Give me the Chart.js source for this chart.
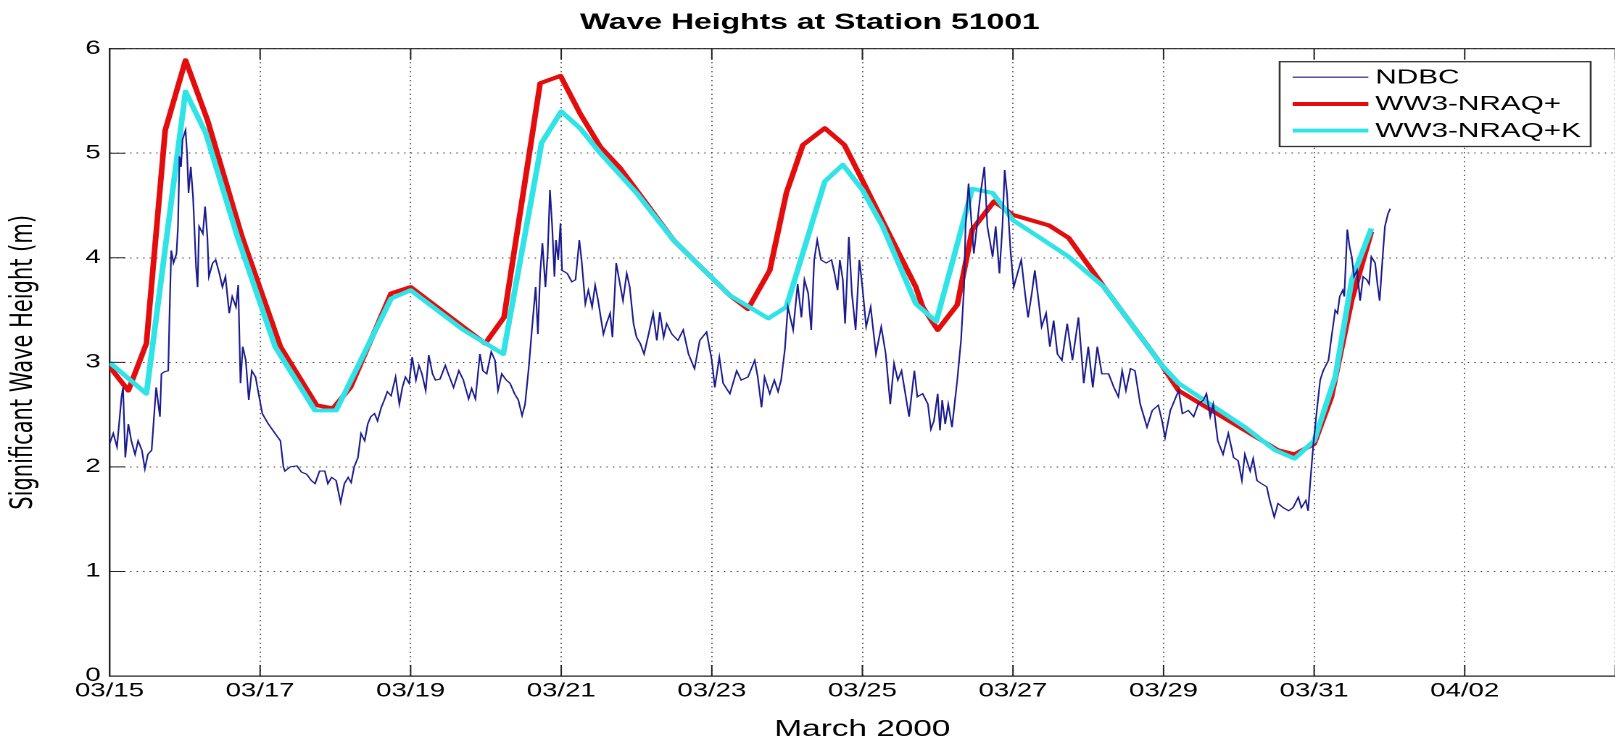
<!DOCTYPE html>
<html>
<head>
<meta charset="utf-8">
<script src="https://cdn.jsdelivr.net/npm/chart.js@4.4.1/dist/chart.umd.min.js"></script>
<style>
html, body { margin: 0; padding: 0; background: #ffffff; overflow: hidden; width: 1615px; height: 743px; }
#wrap { position: absolute; left: 0; top: 0; width: 1118px; height: 743px; transform: scaleX(1.45); transform-origin: 0 0; }
</style>
</head>
<body>
<div id="wrap"><canvas id="c" width="1118" height="743"></canvas></div>
<script>
// ---- data (x = days since 03/15 00:00, y = significant wave height in m) ----
const tickLabels = ['03/15','03/17','03/19','03/21','03/23','03/25','03/27','03/29','03/31','04/02'];

const ndbcDays = [
 0.00,0.05,0.10,0.16,0.18,0.21,0.25,0.29,0.34,0.38,0.43,0.47,0.51,0.56,0.60,0.62,0.67,0.69,0.73,0.78,
 0.80,0.82,0.85,0.89,0.91,0.93,0.95,0.97,1.01,1.03,1.05,1.08,1.11,1.15,1.17,1.19,1.24,1.27,1.30,1.32,
 1.37,1.41,1.46,1.50,1.54,1.59,1.63,1.68,1.71,1.74,1.77,1.81,1.85,1.89,1.94,1.98,2.03,2.11,2.20,2.27,
 2.31,2.33,2.40,2.49,2.55,2.62,2.68,2.73,2.79,2.86,2.90,2.95,3.01,3.07,3.12,3.17,3.21,3.25,3.30,3.34,
 3.39,3.43,3.47,3.52,3.56,3.61,3.65,3.69,3.74,3.80,3.85,3.89,3.93,3.98,4.02,4.07,4.11,4.15,4.20,4.24,
 4.29,4.33,4.39,4.46,4.50,4.57,4.64,4.70,4.77,4.81,4.86,4.92,4.96,5.01,5.07,5.12,5.16,5.21,5.27,5.32,
 5.38,5.43,5.48,5.52,5.57,5.61,5.66,5.69,5.72,5.75,5.79,5.82,5.85,5.88,5.91,5.93,5.96,5.99,6.01,6.08,
 6.14,6.19,6.24,6.27,6.32,6.36,6.41,6.45,6.49,6.56,6.60,6.65,6.68,6.73,6.77,6.82,6.87,6.91,6.96,7.00,
 7.05,7.10,7.16,7.22,7.27,7.31,7.36,7.40,7.47,7.55,7.62,7.69,7.77,7.84,7.93,8.00,8.04,8.10,8.15,8.24,
 8.33,8.39,8.48,8.57,8.61,8.66,8.70,8.77,8.83,8.88,8.92,8.97,9.01,9.08,9.14,9.19,9.23,9.28,9.32,9.36,
 9.40,9.45,9.52,9.59,9.63,9.67,9.70,9.74,9.77,9.82,9.86,9.91,9.96,10.00,10.05,10.11,10.18,10.25,10.31,10.37,
 10.42,10.47,10.52,10.57,10.62,10.69,10.73,10.80,10.87,10.91,10.95,11.00,11.03,11.06,11.10,11.14,11.19,11.23,11.26,11.31,
 11.35,11.37,11.41,11.44,11.48,11.53,11.57,11.62,11.66,11.73,11.77,11.82,11.86,11.89,11.92,11.97,12.01,12.06,12.11,12.16,
 12.20,12.25,12.29,12.34,12.38,12.44,12.49,12.54,12.59,12.65,12.72,12.79,12.87,12.94,13.00,13.06,13.12,13.18,13.27,13.34,
 13.40,13.45,13.50,13.56,13.62,13.69,13.78,13.85,13.93,13.98,14.02,14.09,14.20,14.25,14.33,14.40,14.46,14.53,14.57,14.62,
 14.66,14.72,14.79,14.86,14.93,14.99,15.04,15.08,15.15,15.19,15.24,15.30,15.37,15.41,15.47,15.52,15.59,15.66,15.72,15.79,
 15.83,15.89,15.92,15.95,15.99,16.04,16.08,16.12,16.19,16.23,16.28,16.31,16.34,16.38,16.40,16.44,16.47,16.50,16.53,16.57,
 16.61,16.65,16.70,16.73,16.76,16.81,16.84,16.87,16.91,16.94,16.98,17.01
];
const ndbcHs = [
 2.22,2.32,2.19,2.67,2.76,2.09,2.41,2.25,2.12,2.25,2.16,1.98,2.12,2.16,2.57,2.76,2.48,2.89,2.91,2.92,
 3.53,4.07,3.95,4.04,4.30,4.97,4.87,5.13,5.22,5.00,4.62,4.87,4.58,3.91,3.72,4.30,4.23,4.49,4.20,3.82,
 3.95,3.98,3.85,3.72,3.82,3.47,3.63,3.53,3.74,2.80,3.15,3.02,2.64,2.92,2.86,2.70,2.51,2.41,2.32,2.25,
 2.00,1.96,2.00,2.01,1.95,1.93,1.87,1.84,1.96,1.96,1.84,1.90,1.87,1.66,1.84,1.90,1.85,2.00,2.09,2.32,
 2.25,2.41,2.48,2.51,2.44,2.57,2.64,2.72,2.68,2.86,2.60,2.76,2.86,2.80,3.05,2.83,2.97,2.89,2.73,3.07,
 2.89,2.83,2.84,2.97,2.89,2.76,2.92,2.83,2.65,2.75,2.65,3.08,2.92,2.89,3.10,3.02,2.73,2.89,2.83,2.80,
 2.70,2.64,2.49,2.60,2.96,3.31,3.72,3.27,3.85,4.14,3.72,4.04,4.65,4.30,3.82,4.17,3.98,4.33,3.88,3.85,
 3.77,3.79,4.17,3.98,3.56,3.69,3.53,3.74,3.59,3.27,3.37,3.47,3.24,3.95,3.79,3.59,3.85,3.72,3.37,3.24,
 3.18,3.08,3.27,3.47,3.21,3.48,3.24,3.37,3.27,3.21,3.31,3.08,2.94,3.21,3.29,3.02,2.76,3.05,2.80,2.70,
 2.92,2.83,2.86,3.02,2.86,2.57,2.86,2.70,2.83,2.72,2.83,3.12,3.53,3.31,3.75,3.43,3.79,3.66,3.31,3.98,
 4.17,3.98,3.95,3.98,3.85,3.69,3.98,3.79,3.37,4.20,3.66,3.31,3.98,3.72,3.34,3.53,3.08,3.34,3.08,2.60,
 2.99,2.83,2.92,2.70,2.48,2.92,2.67,2.70,2.60,2.36,2.44,2.70,2.35,2.64,2.41,2.60,2.38,2.64,2.83,3.21,
 3.72,4.30,4.71,4.42,4.04,4.36,4.62,4.87,4.30,4.01,4.30,3.85,4.30,4.84,4.62,4.04,3.72,3.85,3.98,3.66,
 3.43,3.66,3.88,3.59,3.34,3.47,3.15,3.40,3.08,3.02,3.37,3.02,3.43,2.80,3.15,2.76,3.15,2.89,2.89,2.76,
 2.67,2.92,2.73,2.94,2.92,2.60,2.38,2.54,2.59,2.44,2.28,2.54,2.73,2.51,2.54,2.48,2.60,2.64,2.70,2.48,
 2.60,2.25,2.12,2.32,2.09,2.06,1.87,2.12,1.96,2.08,1.87,1.84,1.81,1.68,1.52,1.65,1.61,1.58,1.61,1.71,
 1.61,1.68,1.58,1.87,2.22,2.57,2.83,2.92,3.02,3.24,3.50,3.47,3.63,3.69,3.63,4.27,4.11,4.01,3.82,3.88,
 3.59,3.82,3.79,3.75,4.01,3.95,3.75,3.59,4.01,4.30,4.42,4.47
];

const nraqDays = [0.00,0.25,0.49,0.74,1.01,1.30,1.76,2.27,2.75,2.97,3.20,3.74,4.00,4.99,5.24,5.72,5.99,6.25,6.52,6.78,
 7.13,7.49,7.80,8.24,8.48,8.77,8.99,9.21,9.50,9.76,10.00,10.27,10.71,10.80,11.00,11.26,11.46,11.75,12.00,12.48,
 12.74,13.21,13.98,14.20,15.08,15.52,15.74,16.00,16.23,16.50,16.76];
const nraqHs = [2.96,2.73,3.18,5.22,5.89,5.32,4.20,3.15,2.59,2.56,2.76,3.66,3.72,3.18,3.43,5.67,5.74,5.38,5.06,4.86,
 4.52,4.17,3.95,3.64,3.51,3.88,4.62,5.08,5.24,5.08,4.74,4.35,3.72,3.53,3.31,3.55,4.27,4.54,4.41,4.31,
 4.19,3.72,2.97,2.73,2.35,2.16,2.12,2.22,2.67,3.60,4.25];

const nraqkDays = [0.00,0.49,1.01,1.28,1.70,2.20,2.73,3.01,3.74,4.00,4.70,5.23,5.74,6.00,6.25,6.52,7.00,7.49,7.80,8.24,
 8.75,8.99,9.50,9.74,10.00,10.27,10.71,10.98,11.46,11.73,12.00,12.34,12.74,13.21,13.98,14.20,15.08,15.48,15.74,16.00,
 16.28,16.50,16.76];
const nraqkHs = [3.00,2.70,5.59,5.19,4.20,3.15,2.54,2.54,3.61,3.69,3.31,3.08,5.10,5.40,5.24,5.00,4.62,4.17,3.95,3.64,
 3.42,3.53,4.73,4.89,4.65,4.30,3.56,3.39,4.66,4.62,4.36,4.20,4.01,3.72,2.97,2.80,2.38,2.16,2.08,2.25,
 2.86,3.79,4.28];

const seriesNames = ['NDBC', 'WW3-NRAQ+', 'WW3-NRAQ+K'];
const seriesColors = ['#1b1b8f', '#e30d0d', '#2fe3e6'];

// ---- build ----
const toPts = (xs, ys) => xs.map((d, i) => ({ x: d, y: ys[i] }));
const FONT = '"Liberation Sans", Arial, Helvetica, sans-serif';
const WIDE = '"DejaVu Sans", "Liberation Sans", Arial, sans-serif';

const framePlugin = {
  id: 'frameAndLegend',
  afterDraw(chart) {
    const { ctx, chartArea: a, scales: { x, y } } = chart;
    ctx.save();
    // top box edge and inward tick marks (MATLAB style)
    ctx.strokeStyle = '#222';
    ctx.lineWidth = 1.2;
    ctx.beginPath();
    ctx.moveTo(a.left, a.top); ctx.lineTo(a.right + 2, a.top);
    ctx.stroke();
    const tl = 11;
    ctx.lineWidth = 1;
    ctx.beginPath();
    x.ticks.forEach(t => {
      const px = x.getPixelForValue(t.value);
      ctx.moveTo(px, a.bottom); ctx.lineTo(px, a.bottom - tl);
      ctx.moveTo(px, a.top); ctx.lineTo(px, a.top + tl);
    });
    y.ticks.forEach(t => {
      const py = y.getPixelForValue(t.value);
      ctx.moveTo(a.left, py); ctx.lineTo(a.left + tl, py);
    });
    ctx.stroke();

    // legend box
    const bx = 882.5, by = 61.7, bw = 214.5, bh = 84.8;
    ctx.fillStyle = '#ffffff';
    ctx.fillRect(bx, by, bw, bh);
    ctx.strokeStyle = '#333';
    ctx.lineWidth = 1.3;
    ctx.strokeRect(bx, by, bw, bh);
    const rows = [77.2, 104.0, 130.6];
    ctx.font = '20.5px ' + FONT;
    ctx.textBaseline = 'middle';
    ctx.textAlign = 'left';
    chart.data.datasets.forEach((ds, i) => {
      const ry = rows[i];
      ctx.strokeStyle = ds.borderColor;
      ctx.lineWidth = ds.borderWidth;
      ctx.lineCap = 'butt';
      ctx.beginPath();
      ctx.moveTo(891.5, ry); ctx.lineTo(943.7, ry);
      ctx.stroke();
      ctx.fillStyle = '#000';
      ctx.fillText(ds.label, 948.5, ry + 0.5);
    });
    ctx.restore();
  }
};

new Chart(document.getElementById('c'), {
  type: 'line',
  data: {
    datasets: [
      { label: seriesNames[0], data: toPts(ndbcDays, ndbcHs), borderColor: seriesColors[0], borderWidth: 1.1, pointRadius: 0, tension: 0, order: 0 },
      { label: seriesNames[1], data: toPts(nraqDays, nraqHs), borderColor: seriesColors[1], borderWidth: 3.9, pointRadius: 0, tension: 0, order: 2, borderJoinStyle: 'round' },
      { label: seriesNames[2], data: toPts(nraqkDays, nraqkHs), borderColor: seriesColors[2], borderWidth: 3.9, pointRadius: 0, tension: 0, order: 1, borderJoinStyle: 'round' }
    ]
  },
  options: {
    responsive: false,
    animation: false,
    devicePixelRatio: 2,
    layout: { padding: { left: 0, right: 1, top: 0, bottom: 0 } },
    plugins: {
      legend: { display: false },
      tooltip: { enabled: false },
      title: {
        display: true,
        text: 'Wave Heights at Station 51001',
        color: '#000',
        font: { family: FONT, size: 22, weight: 'bold', lineHeight: 1.2 },
        padding: { top: 9.5, bottom: 12.8 }
      }
    },
    scales: {
      x: {
        type: 'linear',
        min: 0, max: 20,
        ticks: {
          stepSize: 2, autoSkip: false, maxRotation: 0, padding: 4, color: '#000',
          font: { family: FONT, size: 19 },
          callback: v => (Number.isInteger(v / 2) && tickLabels[v / 2] !== undefined) ? tickLabels[v / 2] : ''
        },
        grid: { color: 'rgba(0,0,0,0.75)', lineWidth: 1, drawTicks: false },
        border: { display: true, color: '#222', width: 1.2, dash: [1, 3.5] },
        title: { display: true, text: 'March 2000', color: '#000', font: { family: FONT, size: 23, lineHeight: 1.15 }, padding: { top: 0, bottom: 0 } },
        afterFit: s => { s.height = 67; }
      },
      y: {
        min: 0, max: 6,
        ticks: { stepSize: 1, padding: 6, color: '#000', font: { family: FONT, size: 19 } },
        grid: { color: 'rgba(0,0,0,0.75)', lineWidth: 1, drawTicks: false },
        border: { display: true, color: '#222', width: 1.2, dash: [1, 3.5] },
        title: { display: true, text: 'Significant Wave Height (m)', color: '#000', font: { family: WIDE, size: 21, lineHeight: 1.2 }, padding: { top: 4, bottom: 0 } },
        afterFit: s => { s.width = 75.5; }
      }
    }
  },
  plugins: [framePlugin]
});
</script>
</body>
</html>
